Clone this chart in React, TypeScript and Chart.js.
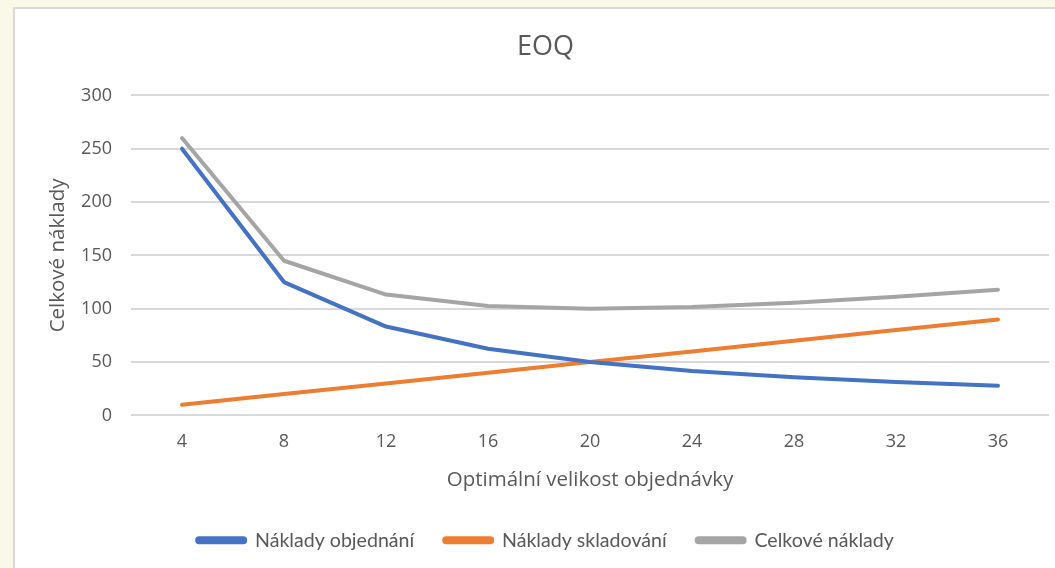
import React, { useEffect, useRef } from "react";
import { Chart, registerables } from "chart.js";

Chart.register(...registerables);

const categories = ["4", "8", "12", "16", "20", "24", "28", "32", "36"];
const orderingCost = [250, 125, 83.3, 62.5, 50, 41.7, 35.7, 31.3, 27.8];
const holdingCost = [10, 20, 30, 40, 50, 60, 70, 80, 90];
const totalCost = [260, 145, 113.3, 102.5, 100, 101.7, 105.7, 111.3, 117.8];
const yTicks = [0, 50, 100, 150, 200, 250, 300];

const AXIS_FONT = "'Open Sans', sans-serif";
const LEGEND_FONT = "Lato, 'Open Sans', sans-serif";
const TEXT = "#595959";

export default function App() {
  const ref = useRef<HTMLCanvasElement | null>(null);

  useEffect(() => {
    if (!ref.current) return;
    const chart = new Chart(ref.current, {
      type: "line",
      data: {
        labels: categories,
        datasets: [
          { label: "Náklady objednání", data: orderingCost, borderColor: "#4472C4", backgroundColor: "#4472C4" },
          { label: "Náklady skladování", data: holdingCost, borderColor: "#ED7D31", backgroundColor: "#ED7D31" },
          { label: "Celkové náklady", data: totalCost, borderColor: "#A5A5A5", backgroundColor: "#A5A5A5" },
        ].map((d) => ({
          ...d,
          borderWidth: 4,
          pointRadius: 0,
          pointHoverRadius: 0,
          tension: 0,
          borderCapStyle: "round" as const,
          borderJoinStyle: "round" as const,
          fill: false,
        })),
      },
      options: {
        animation: false,
        responsive: false,
        maintainAspectRatio: false,
        layout: { padding: { left: 42, right: 6, top: 20, bottom: 8 } },
        plugins: {
          title: {
            display: true,
            text: "EOQ",
            color: TEXT,
            font: { family: AXIS_FONT, size: 27, weight: "normal" },
            padding: { top: 11, bottom: 32 },
          },
          legend: {
            display: true,
            position: "bottom",
            labels: {
              color: TEXT,
              font: { family: LEGEND_FONT, size: 19.6 },
              boxWidth: 48,
              boxHeight: 4,
              useBorderRadius: true,
              borderRadius: 2,
              padding: 30,
            },
          },
          tooltip: { enabled: false },
        },
        scales: {
          x: {
            offset: true,
            grid: { display: false, drawTicks: false },
            border: { display: false },
            ticks: { color: TEXT, font: { family: AXIS_FONT, size: 18 }, padding: 16 },
            title: {
              display: true,
              text: "Optimální velikost objednávky",
              color: TEXT,
              font: { family: AXIS_FONT, size: 20.5 },
              padding: { top: -1.5, bottom: 8.3 },
            },
          },
          y: {
            min: 0,
            max: 300,
            afterBuildTicks: (scale: any) => {
              scale.ticks = yTicks.map((v) => ({ value: v }));
            },
            afterFit: (scale: any) => {
              scale.width = 89;
            },
            grid: { color: "#D9D9D9", lineWidth: 2, drawTicks: false },
            border: { display: false },
            ticks: { color: TEXT, font: { family: AXIS_FONT, size: 18 }, padding: 19 },
            title: {
              display: true,
              text: "Celkové náklady",
              color: TEXT,
              font: { family: AXIS_FONT, size: 20.5 },
              padding: { top: 4, bottom: 4 },
            },
          },
        },
      },
    });
    return () => chart.destroy();
  }, []);

  return (
    <div style={{ position: "fixed", left: 0, top: 0, width: 1055, height: 568, background: "#FAF8E8", overflow: "hidden" }}>
      <div
        style={{
          position: "absolute",
          left: 13,
          top: 7,
          width: 1100,
          height: 600,
          background: "#FFFFFF",
          border: "2px solid #D9D9D9",
        }}
      />
      <canvas ref={ref} width={1055} height={568} style={{ position: "absolute", left: 0, top: 0, width: 1055, height: 568 }} />
    </div>
  );
}
